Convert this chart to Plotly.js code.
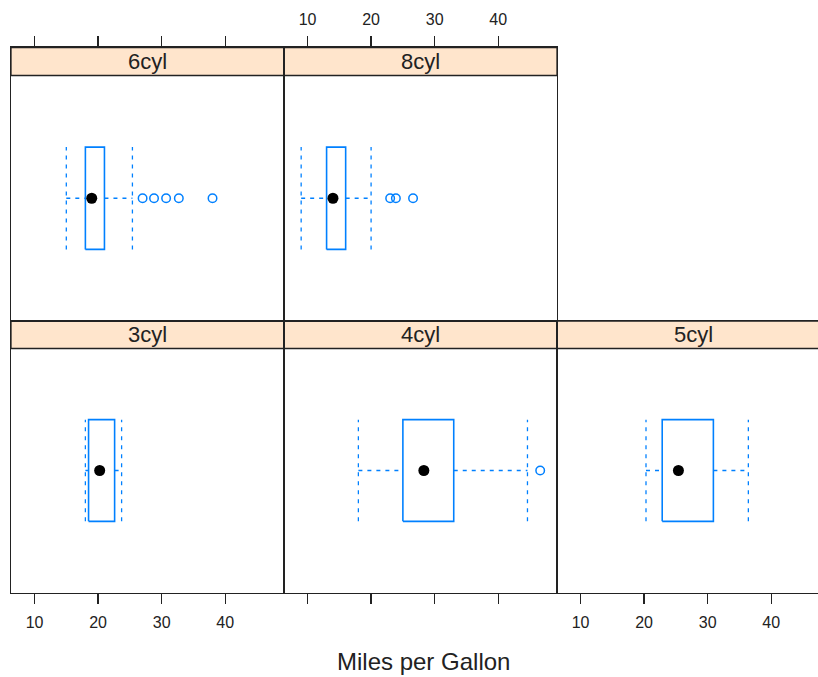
<!DOCTYPE html>
<html>
<head>
<meta charset="utf-8">
<script src="https://cdn.plot.ly/plotly-3.0.1.min.js"></script>
<style>
  html, body { margin: 0; padding: 0; background: #fff; }
  #chart { width: 818px; height: 677px; }
</style>
</head>
<body>
<div id="chart"></div>
<script>
// Miles per gallon by number of cylinders: five-number summaries per panel
const panels        = ['6cyl', '8cyl', '3cyl', '4cyl', '5cyl'];
const lowerWhisker  = [15.0,  9.0, 18.0, 18.0, 20.3];
const lowerHinge    = [18.0, 13.0, 18.5, 25.0, 22.85];
const medians       = [19.0, 14.0, 20.25, 28.3, 25.4];
const upperHinge    = [21.0, 16.0, 22.6, 33.0, 30.9];
const upperWhisker  = [25.4, 20.0, 23.7, 44.6, 36.4];
const outliers      = [[27.0, 28.8, 30.7, 32.7, 38.0], [23.0, 23.9, 26.6], [], [46.6], []];
const tickValues    = [10, 20, 30, 40];
const tickLabels    = ['10', '20', '30', '40'];
const xTitle        = 'Miles per Gallon';

// panel grid: [column, row] (row 0 = top)
const cells = [[0, 0], [1, 0], [0, 1], [1, 1], [2, 1]];

const W = 818, H = 677;
const colLeft = [11, 284, 557];
const colRight = [284, 557, 818];
const pxPerUnit = 6.357;
const xStart = 6.3;
// rows: [top of strip, bottom of strip, bottom of panel] in pixels
const rows = [[47.5, 75.5, 321], [321, 348.5, 592.5]];

const BLUE = '#0080ff';
const FONT = 'Liberation Sans, Arial, sans-serif';
const boxLo = 0.75, boxHi = 1.25, yMid = 1;

const traces = [];
const layout = {
  width: W, height: H,
  margin: {l: 0, r: 0, t: 0, b: 0},
  paper_bgcolor: '#fff', plot_bgcolor: '#fff',
  showlegend: false,
  font: {family: FONT, color: '#222'},
  shapes: [], annotations: []
};

panels.forEach((name, i) => {
  const [c, r] = cells[i];
  const n = i + 1;
  const xa = 'x' + (n === 1 ? '' : n), ya = 'y' + (n === 1 ? '' : n);
  const xKey = 'xaxis' + (n === 1 ? '' : n), yKey = 'yaxis' + (n === 1 ? '' : n);
  const [sTop, sBot, pBot] = rows[r];
  const unitsPerPxY = 1.2 / (pBot - sBot);
  const yTop = 1.6 + (sBot - sTop) * unitsPerPxY;
  const xEnd = xStart + (colRight[c] - colLeft[c]) / pxPerUnit;

  const showLabels = (r === 0 && c === 1) || (r === 1 && c !== 1);
  layout[xKey] = {
    domain: [colLeft[c] / W, colRight[c] / W],
    range: [xStart, xEnd],
    anchor: ya,
    side: r === 0 ? 'top' : 'bottom',
    tickmode: 'array', tickvals: tickValues, ticktext: tickLabels,
    showticklabels: showLabels,
    ticks: 'outside', ticklen: 10, tickwidth: 1.3, tickcolor: '#222',
    ticklabelstandoff: 5,
    tickfont: {size: 16, family: FONT, color: '#222'},
    showline: true, mirror: true, linecolor: '#222', linewidth: 1.3,
    showgrid: false, zeroline: false, fixedrange: true
  };
  layout[yKey] = {
    domain: [1 - pBot / H, 1 - sTop / H],
    range: [0.4, yTop],
    anchor: xa,
    showticklabels: false, ticks: '',
    showline: true, mirror: c === 2 ? false : true, linecolor: '#222', linewidth: 1.3,
    showgrid: false, zeroline: false, fixedrange: true
  };

  // strip
  layout.shapes.push({
    type: 'rect', xref: xa + ' domain', yref: ya,
    x0: 0, x1: c === 2 ? 1.05 : 1, y0: 1.6, y1: yTop,
    fillcolor: '#ffe5cc', line: {color: '#222', width: 1.3}, layer: 'below'
  });
  layout.annotations.push({
    xref: xa + ' domain', yref: ya, x: c === 2 ? 0.5 * 273 / 261 : 0.5, y: (1.6 + yTop) / 2,
    text: name, showarrow: false, xanchor: 'center', yanchor: 'middle',
    font: {size: 22, family: FONT, color: '#222'}
  });

  const whisk = {color: BLUE, width: 1.3, dash: '4px,5px'};
  // box
  traces.push({
    type: 'scatter', mode: 'lines', xaxis: xa, yaxis: ya, hoverinfo: 'skip',
    x: [lowerHinge[i], upperHinge[i], upperHinge[i], lowerHinge[i], lowerHinge[i]],
    y: [boxLo, boxLo, boxHi, boxHi, boxLo],
    line: {color: BLUE, width: 1.6}
  });
  // whiskers
  traces.push({
    type: 'scatter', mode: 'lines', xaxis: xa, yaxis: ya, hoverinfo: 'skip',
    x: [lowerWhisker[i], lowerHinge[i]], y: [yMid, yMid], line: whisk
  });
  traces.push({
    type: 'scatter', mode: 'lines', xaxis: xa, yaxis: ya, hoverinfo: 'skip',
    x: [upperHinge[i], upperWhisker[i]], y: [yMid, yMid], line: whisk
  });
  // whisker caps
  traces.push({
    type: 'scatter', mode: 'lines', xaxis: xa, yaxis: ya, hoverinfo: 'skip',
    x: [lowerWhisker[i], lowerWhisker[i]], y: [boxLo, boxHi], line: whisk
  });
  traces.push({
    type: 'scatter', mode: 'lines', xaxis: xa, yaxis: ya, hoverinfo: 'skip',
    x: [upperWhisker[i], upperWhisker[i]], y: [boxLo, boxHi], line: whisk
  });
  // outliers
  if (outliers[i].length) {
    traces.push({
      type: 'scatter', mode: 'markers', xaxis: xa, yaxis: ya,
      x: outliers[i], y: outliers[i].map(() => yMid),
      marker: {symbol: 'circle-open', size: 8.5, color: BLUE, line: {width: 1.5, color: BLUE}}
    });
  }
  // median dot
  traces.push({
    type: 'scatter', mode: 'markers', xaxis: xa, yaxis: ya,
    x: [medians[i]], y: [yMid],
    marker: {symbol: 'circle', size: 11, color: '#000'}
  });
});

layout.annotations.push({
  xref: 'paper', yref: 'paper', x: 424 / W, y: 1 - 661 / H,
  text: xTitle, showarrow: false, xanchor: 'center', yanchor: 'middle',
  font: {size: 24, family: FONT, color: '#222'}
});

Plotly.newPlot('chart', traces, layout, {displayModeBar: false, staticPlot: true});
</script>
</body>
</html>
